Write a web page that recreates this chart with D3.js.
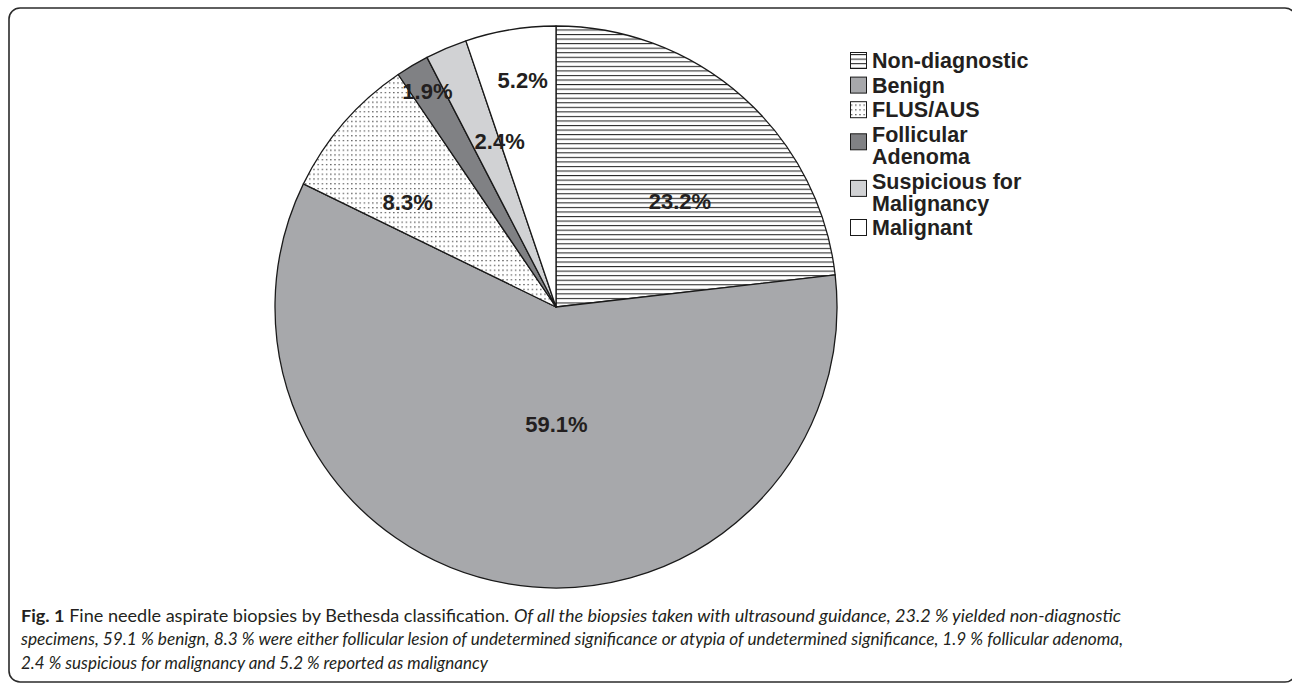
<!DOCTYPE html>
<html>
<head>
<meta charset="utf-8">
<script src="https://cdn.jsdelivr.net/npm/d3@7"></script>
<style>
  html, body { margin: 0; padding: 0; background: #fff; }
  svg { display: block; }
</style>
</head>
<body>
<svg id="chart" width="1292" height="684"></svg>
<script>
// data
const categories = ["Non-diagnostic", "Benign", "FLUS/AUS", "Follicular Adenoma", "Suspicious for Malignancy", "Malignant"];
const percents = [23.2, 59.1, 8.3, 1.9, 2.4, 5.2];
const pctLabels = ["23.2%", "59.1%", "8.3%", "1.9%", "2.4%", "5.2%"];
const legendLines = [["Non-diagnostic"], ["Benign"], ["FLUS/AUS"], ["Follicular", "Adenoma"], ["Suspicious for", "Malignancy"], ["Malignant"]];

// look of each slice, and where its label sits (fraction of radius, angular nudge in degrees)
const fills = ["url(#hlines)", "#a7a8ab", "url(#dots)", "#808184", "#d1d2d4", "#ffffff"];
const labelRadius = [0.58, 0.416, 0.647, 0.895, 0.625, 0.817];
const labelNudge = [7.8, -9.9, -5.6, 0, 4.3, 1];

const ink = "#231f20";
const boldFont = '"Liberation Sans"';
const svg = d3.select('#chart');

// rounded frame around figure + caption
svg.append('rect')
    .attr('x', 9).attr('y', 8)
    .attr('width', 1287).attr('height', 674)
    .attr('rx', 11)
    .attr('fill', 'none')
    .attr('stroke', '#2b2b2b')
    .attr('stroke-width', 1.6);

const defs = svg.append('defs');
const hl = defs.append('pattern')
    .attr('id', 'hlines')
    .attr('patternUnits', 'userSpaceOnUse')
    .attr('width', 10).attr('height', 4.55);
hl.append('rect').attr('width', 10).attr('height', 4.55).attr('fill', '#fff');
hl.append('line')
    .attr('x1', 0).attr('x2', 10).attr('y1', 0.5).attr('y2', 0.5)
    .attr('stroke', '#2a2a2a').attr('stroke-width', 1.15);

const dp = defs.append('pattern')
    .attr('id', 'dots')
    .attr('patternUnits', 'userSpaceOnUse')
    .attr('width', 4.2).attr('height', 4.8);
dp.append('rect').attr('width', 4.2).attr('height', 4.8).attr('fill', '#fff');
dp.append('rect').attr('x', 1).attr('y', 1).attr('width', 1.2).attr('height', 1.2).attr('fill', '#333');

// pie
const cx = 556, cy = 307, radius = 281;
const pie = d3.pie().sort(null);
const arcGen = d3.arc().innerRadius(0).outerRadius(radius);
const arcs = pie(percents);

const pieG = svg.append('g').attr('transform', `translate(${cx},${cy})`);

pieG.selectAll('path')
    .data(arcs)
    .join('path')
    .attr('d', arcGen)
    .attr('fill', (d, i) => fills[i])
    .attr('stroke', '#1a1a1a')
    .attr('stroke-width', 1.3)
    .attr('stroke-linejoin', 'round');

const labelPos = arcs.map((d, i) => {
    const r = radius * labelRadius[i];
    const da = labelNudge[i] * Math.PI / 180;
    return d3.arc().innerRadius(r).outerRadius(r)
        .centroid({ startAngle: d.startAngle + da, endAngle: d.endAngle + da });
});

const labelG = svg.append('g').attr('transform', `translate(${cx},${cy})`);
labelG.selectAll('text')
    .data(pctLabels)
    .join('text')
    .attr('x', (d, i) => labelPos[i][0])
    .attr('y', (d, i) => labelPos[i][1])
    .attr('text-anchor', 'middle')
    .attr('dy', '0.36em')
    .attr('fill', ink)
    .style('font-family', boldFont)
    .style('font-weight', 'bold')
    .style('font-size', '22px')
    .text(d => d);

// legend
const rowH = 22, gap = 2.6;
const legend = svg.append('g').attr('transform', 'translate(850,49.5)');
let yCursor = 0;
legendLines.forEach((lines, i) => {
    const n = lines.length;
    const item = legend.append('g').attr('transform', `translate(0,${yCursor})`);
    const blockH = n * rowH;
    item.append('rect')
        .attr('x', 0.5)
        .attr('y', blockH / 2 - 8 - (n > 1 ? 3.5 : 0))
        .attr('width', 16).attr('height', 16)
        .attr('fill', fills[i])
        .attr('stroke', '#1a1a1a')
        .attr('stroke-width', 1);
    lines.forEach((t, j) => {
        item.append('text')
            .attr('x', 22)
            .attr('y', j * rowH + rowH / 2)
            .attr('dy', '0.36em')
            .attr('fill', ink)
            .style('font-family', boldFont)
            .style('font-weight', 'bold')
            .style('font-size', '21.5px')
            .text(t);
    });
    yCursor += blockH + gap;
});

// caption (justified paragraph: first two lines fill the width, last is ragged)
const capLines = [
    [["Fig. 1", "bold", "normal"], [" Fine needle aspirate biopsies by Bethesda classification. ", "normal", "normal"],
     ["Of all the biopsies taken with ultrasound guidance, 23.2 % yielded non-diagnostic", "normal", "italic"]],
    [["specimens, 59.1 % benign, 8.3 % were either follicular lesion of undetermined significance or atypia of undetermined significance, 1.9 % follicular adenoma,", "normal", "italic"]],
    [["2.4 % suspicious for malignancy and 5.2 % reported as malignancy", "normal", "italic"]]
];
const capWidths = [1100, 1102, null];
const cap = svg.append('g');
const capNodes = capLines.map((parts, k) => {
    const t = cap.append('text')
        .attr('x', 21)
        .attr('y', 622 + k * 23.3)
        .attr('fill', ink)
        .style('font-family', 'Lato')
        .style('font-size', '17px');
    parts.forEach(p => {
        t.append('tspan')
            .style('font-weight', p[1])
            .style('font-style', p[2])
            .text(p[0]);
    });
    return t;
});
capNodes.forEach((t, k) => {
    if (capWidths[k]) t.attr('textLength', capWidths[k]).attr('lengthAdjust', 'spacingAndGlyphs');
});
</script>
</body>
</html>
